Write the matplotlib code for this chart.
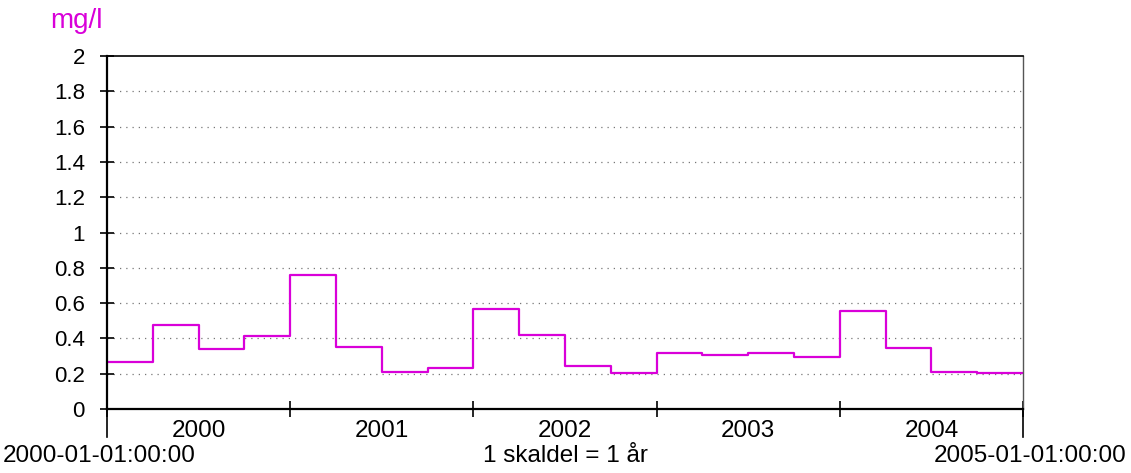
import matplotlib
matplotlib.use('Agg')
import matplotlib.pyplot as plt

plt.rcParams['font.family'] = ['Liberation Sans', 'DejaVu Sans']

# kvartalsvärden 2000-2004
years = ['2000', '2001', '2002', '2003', '2004']
values = [0.268, 0.477, 0.340, 0.413,
          0.762, 0.353, 0.209, 0.234,
          0.566, 0.419, 0.242, 0.202,
          0.319, 0.308, 0.315, 0.292,
          0.553, 0.343, 0.211, 0.204]
yticks = [0, 0.2, 0.4, 0.6, 0.8, 1, 1.2, 1.4, 1.6, 1.8, 2]
ytick_labels = ['0', '0.2', '0.4', '0.6', '0.8', '1', '1.2', '1.4', '1.6', '1.8', '2']

magenta = '#d900d9'

fig = plt.figure(figsize=(11.31, 4.73), dpi=100)
ax = fig.add_axes([0.0946, 0.1353, 0.81, 0.7463])

x = list(range(len(values) + 1))
ax.step(x, values + [values[-1]], where='post', color=magenta, lw=1.6)

ax.set_xlim(0, len(values))
ax.set_ylim(0, 2)

for v in yticks[1:-1]:
    ax.axhline(v, color='#777777', lw=0.9, ls=(0, (1, 4)), zorder=0)

ax.set_yticks(yticks)
ax.set_yticklabels(ytick_labels, fontsize=16)
ax.tick_params(axis='y', direction='inout', length=10, width=1.2, pad=11)

ax.set_xticks(range(0, len(values) + 1, 4))
ax.set_xticklabels([])
ax.set_xticks([2 + 4 * i for i in range(len(years))], minor=True)
ax.set_xticklabels(years, minor=True, fontsize=17.5)
ax.tick_params(axis='x', which='major', direction='inout', length=12, width=1.2)
ax.tick_params(axis='x', which='minor', length=0, pad=8)

for side in ['left', 'bottom']:
    ax.spines[side].set_linewidth(1.6)
ax.spines['top'].set_linewidth(1.2)
ax.spines['right'].set_linewidth(1.0)
ax.spines['right'].set_color('#555555')

# förlängda kantlinjer under x-axeln
trans = ax.get_xaxis_transform()
for xe in [0, len(values)]:
    ax.plot([xe, xe], [0, -0.08], color='black', lw=1.2, transform=trans, clip_on=False)

fig.text(0.044, 0.955, 'mg/l', color=magenta, fontsize=20, ha='left', va='center')
fig.text(0.002, 0.036, '2000-01-01:00:00', fontsize=17.5, ha='left', va='center')
fig.text(0.5, 0.036, '1 skaldel = 1 år', fontsize=17.5, ha='center', va='center')
fig.text(0.996, 0.036, '2005-01-01:00:00', fontsize=17.5, ha='right', va='center')

fig.savefig('out.png', dpi=100)
